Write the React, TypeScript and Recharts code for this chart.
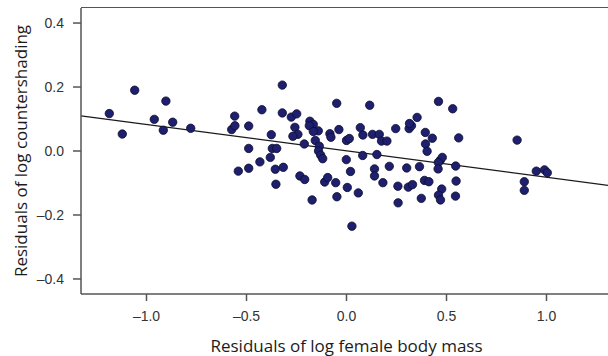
import {
  ScatterChart, Scatter, XAxis, YAxis, ReferenceLine, Label,
} from 'recharts'

// residuals of log female body mass (x) vs residuals of log countershading (y)
const massResid = [
  -1.186, -1.121, -1.059, -0.961, -0.903, -0.916, -0.869, -0.779, -0.574, -0.559,
  -0.558, -0.489, -0.489, -0.541, -0.489, -0.433, -0.423, -0.321, -0.321, -0.276,
  -0.249, -0.376, -0.258, -0.243, -0.268, -0.183, -0.166, -0.186, -0.141, -0.166,
  -0.156, -0.211, -0.136, -0.140, -0.129, -0.119, -0.083, -0.078, -0.038, -0.049,
  0.000, 0.014, -0.001, 0.069, 0.082, 0.116, 0.130, 0.164, 0.175, 0.202,
  0.081, 0.152, 0.140, 0.140, 0.214, 0.182, 0.246, 0.313, 0.325, 0.315,
  0.353, 0.460, 0.394, 0.429, 0.395, 0.403, 0.469, 0.479, 0.459, 0.458,
  0.301, 0.365, 0.257, 0.309, 0.330, 0.390, 0.412, 0.476, 0.460, 0.470,
  0.374, 0.258, -0.381, -0.371, -0.349, -0.356, -0.316, -0.353, -0.233, -0.209,
  -0.172, -0.109, -0.094, -0.054, -0.048, 0.004, 0.020, 0.059, 0.027, 0.531,
  0.561, 0.546, 0.548, 0.545, 0.853, 0.949, 0.990, 1.004, 0.889, 0.889,
]
const shadingResid = [
  0.117, 0.053, 0.190, 0.099, 0.156, 0.065, 0.090, 0.071, 0.067, 0.109,
  0.079, 0.078, 0.008, -0.063, -0.054, -0.034, 0.129, 0.206, 0.119, 0.106,
  0.116, 0.051, 0.074, 0.052, 0.046, 0.093, 0.083, 0.079, 0.063, 0.061,
  0.033, 0.022, 0.015, 0.000, -0.013, -0.024, 0.054, 0.043, 0.067, 0.149,
  0.033, 0.039, -0.027, 0.073, 0.050, 0.143, 0.052, 0.052, 0.031, 0.031,
  -0.014, -0.011, -0.056, -0.078, -0.048, -0.099, 0.070, 0.070, 0.079, 0.086,
  0.105, 0.155, 0.058, 0.040, 0.022, -0.001, -0.029, -0.020, -0.036, -0.056,
  -0.053, -0.049, -0.110, -0.113, -0.105, -0.092, -0.096, -0.119, -0.138, -0.153,
  -0.148, -0.162, -0.020, 0.008, 0.008, -0.057, -0.051, -0.104, -0.078, -0.089,
  -0.153, -0.097, -0.083, -0.099, -0.143, -0.114, -0.064, -0.131, -0.235, 0.132,
  0.041, -0.047, -0.094, -0.141, 0.034, -0.063, -0.059, -0.068, -0.096, -0.123,
]

// fitted regression line end points
const fitX = [-1.3275, 1.3275]
const fitY = [0.11, -0.109]

const xTicks = [-1.0, -0.5, 0.0, 0.5, 1.0]
const yTicks = [-0.4, -0.2, 0.0, 0.2, 0.4]

const X_DOMAIN = [-1.3275, 1.3275]
const Y_DOMAIN = [-0.447, 0.447]

const points = massResid.map((x, i) => ({ x, y: shadingResid[i] }))

const fmt = (v: number) => v.toFixed(1).replace('-', '\u2013')
const tickStyle = { fill: '#333', fontSize: 14, fontFamily: '"Liberation Sans", Arial, sans-serif' }
const labelFont = '"Open Sans", Lato, sans-serif'
const boxColor = '#555'

const MARGIN = { top: 8, right: 8, bottom: 12, left: 21 }
const Y_AXIS_W = 60

const Dot = (props: any) => (
  <circle cx={props.cx} cy={props.cy} r={4.2} fill="#1e1f6e" stroke="#0c0c2c" strokeWidth={0.8} />
)

export default function App() {
  return (
    <div style={{ position: 'fixed', left: 0, top: 0, width: 608, height: 356, overflow: 'hidden', background: '#fff' }}>
      {/* top edge of the plot frame */}
      <div
        style={{
          position: 'absolute',
          left: MARGIN.left + Y_AXIS_W,
          top: MARGIN.top - 0.75,
          right: 0,
          height: 0,
          borderTop: `1.5px solid ${boxColor}`,
          zIndex: 1,
        }}
      />
      <ScatterChart width={620} height={356} margin={MARGIN}>
        <XAxis
          type="number"
          dataKey="x"
          domain={X_DOMAIN}
          allowDataOverflow
          ticks={xTicks}
          tickFormatter={fmt}
          height={50}
          tickSize={7}
          tickMargin={10}
          tick={tickStyle}
          axisLine={{ stroke: boxColor, strokeWidth: 1.5 }}
          tickLine={{ stroke: boxColor, strokeWidth: 1.5 }}
        >
          <Label
            content={({ viewBox }: any) => (
              <text
                x={viewBox.x + viewBox.width / 2}
                y={viewBox.y + 51}
                textAnchor="middle"
                dominantBaseline="central"
                fill="#1c1c1c"
                fontSize={17}
                fontFamily={labelFont}
              >
                Residuals of log female body mass
              </text>
            )}
          />
        </XAxis>
        <YAxis
          type="number"
          dataKey="y"
          domain={Y_DOMAIN}
          allowDataOverflow
          ticks={yTicks}
          tickFormatter={fmt}
          width={Y_AXIS_W}
          tickSize={8}
          tickMargin={9}
          tick={tickStyle}
          axisLine={{ stroke: boxColor, strokeWidth: 1.5 }}
          tickLine={{ stroke: boxColor, strokeWidth: 1.5 }}
        >
          <Label
            content={({ viewBox }: any) => {
              const cx = viewBox.x - 1
              const cy = viewBox.y + viewBox.height / 2
              return (
                <text
                  x={cx}
                  y={cy}
                  transform={`rotate(-90, ${cx}, ${cy})`}
                  textAnchor="middle"
                  dominantBaseline="central"
                  fill="#1c1c1c"
                  fontSize={17}
                  fontFamily={labelFont}
                >
                  Residuals of log countershading
                </text>
              )
            }}
          />
        </YAxis>
        <Scatter data={points} shape={Dot} isAnimationActive={false} />
        <ReferenceLine
          segment={[{ x: fitX[0], y: fitY[0] }, { x: fitX[1], y: fitY[1] }]}
          stroke="#1a1a1a"
          strokeWidth={1.3}
        />
      </ScatterChart>
    </div>
  )
}
